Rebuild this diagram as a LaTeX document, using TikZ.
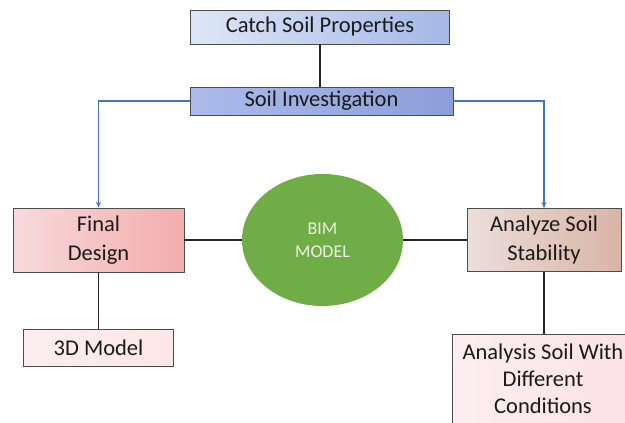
\documentclass[tikz,border=0pt]{standalone}
\usepackage{fontspec}
\setmainfont{Carlito}
\usetikzlibrary{shapes.geometric,arrows.meta}
\definecolor{txt}{HTML}{1A1A1A}
\definecolor{arrowblue}{HTML}{4472C4}
\tikzset{
  box/.style={draw=black!70, line width=0.8pt, rectangle, align=center, inner sep=0pt,
    font=\fontsize{22.5}{29}\selectfont, text=txt},
  link/.style={line width=1.4pt, draw=black!85},
  blink/.style={line width=1.1pt, draw=arrowblue, -{Stealth[length=6pt,width=5pt]}},
}
\begin{document}
\begin{tikzpicture}[x=1pt,y=-1pt]
\useasboundingbox (0,0) rectangle (625,423);
\clip (0,0) rectangle (625,423);
\fill[white] (0,0) rectangle (625,423);
\node[box, minimum width=259pt, minimum height=34pt, left color={rgb,255:red,222;green,231;blue,247}, right color={rgb,255:red,164;green,184;blue,230}] (catch) at (320,27) {Catch Soil Properties};
\node[box, minimum width=263pt, minimum height=28pt, left color={rgb,255:red,172;green,187;blue,235}, right color={rgb,255:red,139;green,158;blue,216}] (inv) at (321.5,101) {Soil Investigation};
\node[box, minimum width=171pt, minimum height=64pt, left color={rgb,255:red,248;green,218;blue,220}, right color={rgb,255:red,244;green,172;blue,172}] (final) at (98.5,240) {Final\\Design};
\node[box, minimum width=150pt, minimum height=37pt, left color={rgb,255:red,252;green,238;blue,240}, right color={rgb,255:red,253;green,230;blue,232}] (model3d) at (98.5,347.5) {3D Model};
\node[box, minimum width=154pt, minimum height=63pt, left color={rgb,255:red,236;green,222;blue,218}, right color={rgb,255:red,217;green,180;blue,166}] (analyze) at (544,240) {Analyze Soil\\Stability};
\node[box, minimum width=182pt, minimum height=100pt, anchor=north, left color={rgb,255:red,252;green,238;blue,240}, right color={rgb,255:red,252;green,226;blue,230}] (analysis) at (543,334) {};
\node[font=\fontsize{22.5}{27}\selectfont, text=txt, align=center, inner sep=0pt] (analysistxt) at (543,379) {Analysis Soil With\\Different\\Conditions};
\node[ellipse, fill={rgb,255:red,112;green,173;blue,71}, minimum width=161pt, minimum height=132pt, inner sep=0pt, align=center, text={rgb,255:red,235;green,242;blue,228}, font=\fontsize{18}{23}\selectfont] (bim) at (322.5,240) {BIM\\MODEL};
\draw[link] (catch.south) -- (catch.south |- inv.north);
\draw[link] (final.east) -- (bim.west);
\draw[link] (bim.east) -- (analyze.west);
\draw[link] (final.south) -- (model3d.north -| final.south);
\draw[link] (analyze.south) -- (analysis.north -| analyze.south);
\draw[blink] (inv.west) -| (final.north);
\draw[blink] (inv.east) -| (analyze.north);
\end{tikzpicture}
\end{document}
